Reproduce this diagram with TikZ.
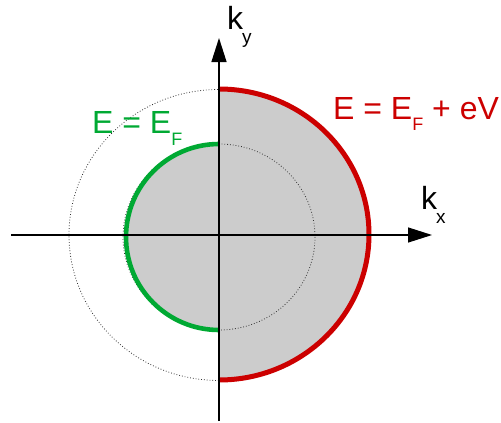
\documentclass[tikz,border=0pt]{standalone}
\usepackage{fontspec}
\setmainfont{Liberation Sans}
\usetikzlibrary{arrows.meta}
\definecolor{fermigreen}{HTML}{00A933}
\definecolor{biasred}{HTML}{CC0000}
\definecolor{seagray}{HTML}{CCCCCC}
\tikzset{
    axis/.style={black, line width=1.3pt, -{Triangle[length=24pt,width=15pt]}},
    shell/.style={black!80, line width=0.8pt, dotted},
    lbl/.style={inner sep=0pt, anchor=base west}
}

\begin{document}
\begin{tikzpicture}[x=1pt, y=-1pt]
    \useasboundingbox (0,0) rectangle (501,423);
    \coordinate (O) at (219,235);
    \coordinate (xs) at (11,235);
    \coordinate (xe) at (432,235);
    \coordinate (ys) at (219,421);
    \coordinate (ye) at (219,38);
    % filled halves
    \fill[seagray] (219,89) arc[start angle=-90, end angle=90, x radius=150, y radius=145.5] -- cycle;
    \fill[seagray] (219,144) arc[start angle=-90, end angle=-270, x radius=93, y radius=93] -- cycle;
    \draw[shell] (O) ellipse[x radius=150, y radius=145.5];
    \draw[shell] (219,237) ellipse[x radius=96, y radius=93];
    % Fermi surfaces
    \draw[biasred, line width=5pt] (219,89) arc[start angle=-90, end angle=90, x radius=150, y radius=145.5];
    \draw[fermigreen, line width=4.6pt] (219,144) arc[start angle=-90, end angle=-270, x radius=93, y radius=93];
    \draw[axis] (xs) -- (xe);
    \draw[axis] (ys) -- (ye);
    \node[lbl] (kx) at (421,209) {\fontsize{32}{32}\selectfont k\kern-1pt\raisebox{-14pt}{\fontsize{19}{19}\selectfont x}};
    \node[lbl] (ky) at (227,29) {\fontsize{32}{32}\selectfont k\kern-1pt\raisebox{-14pt}{\fontsize{19}{19}\selectfont y}};
    \node[lbl, text=biasred] (Ebias) at (333,119) {\fontsize{32}{32}\selectfont E = E\raisebox{-11pt}{\fontsize{18}{18}\selectfont F} + eV};
    \node[lbl, text=fermigreen] (EF) at (92,133) {\fontsize{32}{32}\selectfont E = E\raisebox{-12pt}{\fontsize{18}{18}\selectfont F}};
\end{tikzpicture}
\end{document}
